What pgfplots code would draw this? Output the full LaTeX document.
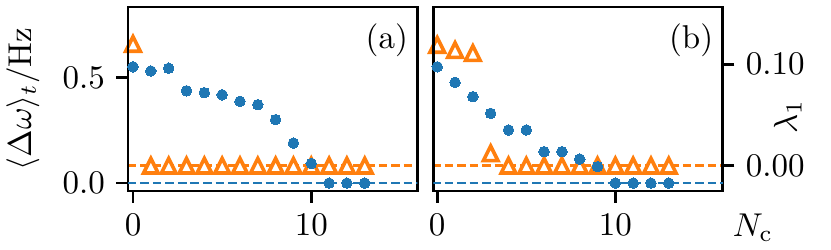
\documentclass[border=0pt]{standalone}
\usepackage{pgfplots}
\pgfplotsset{compat=1.18}
\definecolor{tabblue}{HTML}{1F77B4}
\definecolor{taborange}{HTML}{FF7F0E}
\pgfdeclareplotmark{mtri}{%
  \pgfpathmoveto{\pgfqpoint{0pt}{\pgfplotmarksize}}%
  \pgfpathlineto{\pgfqpoint{-\pgfplotmarksize}{-\pgfplotmarksize}}%
  \pgfpathlineto{\pgfqpoint{\pgfplotmarksize}{-\pgfplotmarksize}}%
  \pgfpathclose
  \pgfusepathqfillstroke}
\pgfplotsset{
  base/.style={scale only axis, width=87.7pt, height=55.8pt,
    axis line style={line width=0.8pt},
    every tick/.style={black, line width=0.8pt},
    major tick length=3.5pt, tick align=outside},
  blueax/.style={ymin=-0.038, ymax=0.836},
  orangeax/.style={ymin=-0.025, ymax=0.1565},
  dots/.style={only marks, mark=*, mark size=1.6pt, mark options={fill=tabblue, draw=tabblue, line width=0pt}},
  tris/.style={only marks, mark=mtri, mark size=2.2pt, mark options={fill=white, draw=taborange, line width=1.1pt, line join=miter}},
  bdash/.style={tabblue, line width=0.85pt, dash pattern=on 2.6pt off 1.2pt, forget plot},
  odash/.style={taborange, line width=0.85pt, dash pattern=on 2.6pt off 1.2pt, forget plot},
}
\begin{document}
\begin{tikzpicture}
% ---------- panel (a): secondary (lambda) axis ----------
\begin{axis}[base, at={(0,0)}, anchor=south west, xmin=-0.28, xmax=15.96, orangeax, hide axis]
\addplot[odash] coordinates {(-1,0) (17,0)};
\addplot[tris] coordinates {(0,0.120) (1,0) (2,0) (3,0) (4,0) (5,0) (6,0) (7,0) (8,0) (9,0) (10,0) (11,0) (12,0) (13,0)};
\end{axis}
% ---------- panel (a): primary axis ----------
\begin{axis}[base, name=a, at={(0,0)}, anchor=south west, xmin=-0.28, xmax=15.96, blueax,
  xtick={0,10}, xtick pos=left, ytick={0,0.5}, ytick pos=left,
  yticklabel style={/pgf/number format/.cd, fixed, fixed zerofill, precision=1}]
\addplot[bdash] coordinates {(-1,0) (17,0)};
\addplot[dots] coordinates {(0,0.552) (1,0.532) (2,0.545) (3,0.438) (4,0.429) (5,0.419) (6,0.388) (7,0.372) (8,0.301) (9,0.190) (10,0.093) (11,0) (12,0) (13,0)};
\node[anchor=north east, inner sep=0pt] at ([xshift=-2.7pt,yshift=-4.9pt]rel axis cs:1,1) {(a)};
\end{axis}
% ---------- panel (b): secondary (lambda) axis ----------
\begin{axis}[base, name=bo, at={(92.5pt,0)}, anchor=south west, xmin=-0.22, xmax=16.03, orangeax,
  axis x line=none, axis y line*=right, ytick={0,0.1}, ytick pos=right,
  yticklabel style={/pgf/number format/.cd, fixed, fixed zerofill, precision=2}]
\addplot[odash] coordinates {(-1,0) (17,0)};
\addplot[tris] coordinates {(0,0.119) (1,0.114) (2,0.111) (3,0.0122) (4,0) (5,0) (6,0) (7,0) (8,0) (9,0) (10,0) (11,0) (12,0) (13,0)};
\end{axis}
% ---------- panel (b): primary axis ----------
\begin{axis}[base, name=b, at={(92.5pt,0)}, anchor=south west, xmin=-0.22, xmax=16.03, blueax,
  xtick={0,10}, xtick pos=left, ytick=\empty]
\addplot[bdash] coordinates {(-1,0) (17,0)};
\addplot[dots] coordinates {(0,0.552) (1,0.478) (2,0.410) (3,0.331) (4,0.252) (5,0.252) (6,0.149) (7,0.149) (8,0.114) (9,0.078) (10,0) (11,0) (12,0) (13,0)};
\node[anchor=north east, inner sep=0pt] at ([xshift=-2.7pt,yshift=-4.9pt]rel axis cs:1,1) {(b)};
\end{axis}
\node[rotate=90, anchor=center, inner sep=0pt] at ([xshift=-31.9pt]a.west) {$\langle \Delta\omega \rangle_t / \mathrm{Hz}$};
\node[rotate=90, anchor=center, inner sep=0pt] at ([xshift=19.7pt,yshift=-5.4pt]b.east) {$\lambda_1$};
\node[anchor=base west, inner sep=0pt] at ([xshift=2.9pt,yshift=-13.85pt]b.south east) {$N_\mathrm{c}$};
\path (-38.8pt,-17.6pt) rectangle (213.0pt,57.9pt);
\end{tikzpicture}
\end{document}
